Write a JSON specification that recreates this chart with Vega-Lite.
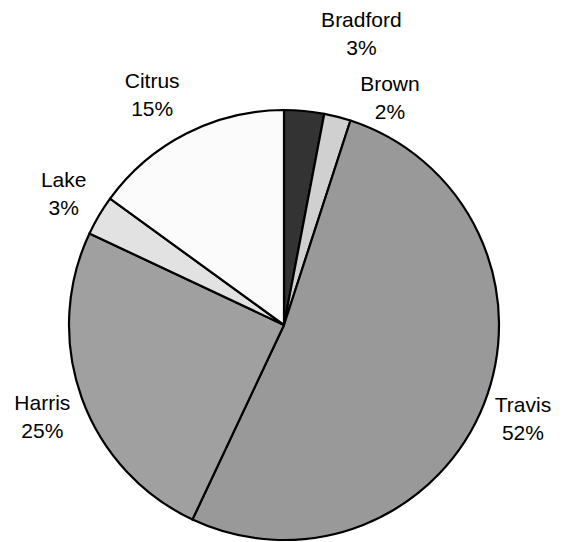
{
  "$schema": "https://vega.github.io/schema/vega-lite/v6.json",
  "width": 566,
  "height": 442,
  "autosize": {"type": "none"},
  "padding": {"left": 1, "top": 104, "right": 0, "bottom": 0},
  "background": "white",
  "config": {"view": {"stroke": null}},
  "data": {
    "values": [
      {"County": "Bradford", "share": 0.03, "rank": 1},
      {"County": "Brown", "share": 0.02, "rank": 2},
      {"County": "Travis", "share": 0.52, "rank": 3},
      {"County": "Harris", "share": 0.25, "rank": 4},
      {"County": "Lake", "share": 0.03, "rank": 5},
      {"County": "Citrus", "share": 0.15, "rank": 6}
    ]
  },
  "encoding": {
    "theta": {"field": "share", "type": "quantitative", "stack": true},
    "order": {"field": "rank", "type": "quantitative"}
  },
  "layer": [
    {
      "mark": {"type": "arc", "outerRadius": 215, "stroke": "black", "strokeWidth": 2.2, "strokeJoin": "round"},
      "encoding": {
        "color": {
          "field": "County",
          "type": "nominal",
          "scale": {
            "domain": ["Bradford", "Brown", "Travis", "Harris", "Lake", "Citrus"],
            "range": ["#333333", "#d0d0d0", "#999999", "#a0a0a0", "#e2e2e2", "#fbfbfb"]
          },
          "legend": null
        }
      }
    },
    {
      "mark": {"type": "text", "font": "Liberation Sans", "fontSize": 21, "fill": "black", "baseline": "middle", "align": "center",
        "radius": {"expr": "[0, 291, 233, 257, 259, 256, 264][datum.rank]"},
        "dx": {"expr": "[0, 50, 48, 0, 2, 0, -12][datum.rank]"},
        "dy": {"expr": "-14 + [0, 0, 0, 0, 5, 0, 6][datum.rank]"}},
      "encoding": {
        "detail": {"field": "County", "type": "nominal"},
        "text": {"field": "County", "type": "nominal"}
      }
    },
    {
      "mark": {"type": "text", "font": "Liberation Sans", "fontSize": 21, "fill": "black", "baseline": "middle", "align": "center",
        "radius": {"expr": "[0, 291, 233, 257, 259, 256, 264][datum.rank]"},
        "dx": {"expr": "[0, 50, 48, 0, 2, 0, -12][datum.rank]"},
        "dy": {"expr": "14 + [0, 0, 0, 0, 5, 0, 6][datum.rank]"}},
      "encoding": {
        "detail": {"field": "County", "type": "nominal"},
        "text": {"field": "share", "type": "quantitative", "format": ".0%"}
      }
    }
  ]
}
